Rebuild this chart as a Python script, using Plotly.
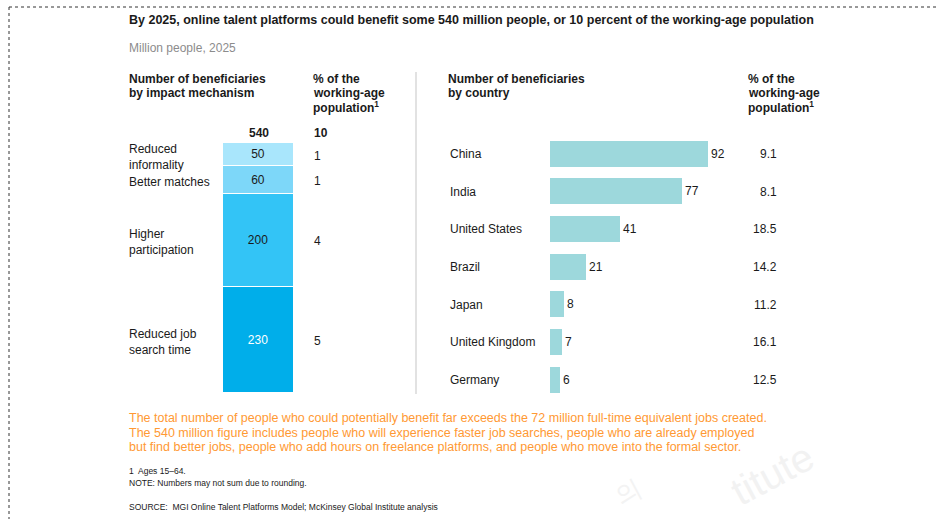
import plotly.graph_objects as go

W, H = 937, 519
def px(x): return x / W
def py(y): return 1 - y / H

# ---- data ----
mechanisms = ["Reduced job<br>search time", "Higher<br>participation", "Better matches", "Reduced<br>informality"]
mech_values = [230, 200, 60, 50]
mech_pct = ["5", "4", "1", "1"]
mech_colors = ["#00aeea", "#33c4f6", "#7dd7f9", "#a9e6fc"]
mech_text_colors = ["white", "#1a1a1a", "#1a1a1a", "#1a1a1a"]
total_value = "540"
total_pct = "10"

countries = ["China", "India", "United States", "Brazil", "Japan", "United Kingdom", "Germany"]
country_values = [92, 77, 41, 21, 8, 7, 6]
country_pct = ["9.1", "8.1", "18.5", "14.2", "11.2", "16.1", "12.5"]

FONT = "Arial, Liberation Sans, sans-serif"
DARK = "#1a1a1a"

fig = go.Figure()

# ---- left stacked bar ----
for name, v, c, tc in zip(mechanisms, mech_values, mech_colors, mech_text_colors):
    fig.add_trace(go.Bar(
        x=[0], y=[v], width=1, name=name,
        marker=dict(color=c, line=dict(color="white", width=1)),
        text=[str(v)], textposition="inside", insidetextanchor="middle",
        textfont=dict(family=FONT, size=12, color=tc),
        xaxis="x", yaxis="y", showlegend=False, hoverinfo="skip"))

# ---- right horizontal bars ----
fig.add_trace(go.Bar(
    x=country_values, y=countries, orientation="h", width=0.69,
    marker=dict(color="#9dd8dc", line=dict(width=0)),
    text=[str(v) for v in country_values], textposition="outside",
    textfont=dict(family=FONT, size=12, color=DARK),
    cliponaxis=False, xaxis="x2", yaxis="y2", showlegend=False, hoverinfo="skip"))

ann = []
def A(x, y, text, size=12, color=DARK, bold=False, xanchor="left", yanchor="middle",
      xref="paper", yref="paper", family=FONT, **kw):
    if bold:
        text = "<b>" + text + "</b>"
    ann.append(dict(x=x, y=y, xref=xref, yref=yref, text=text, showarrow=False,
                    xanchor=xanchor, yanchor=yanchor, align="left", borderpad=0, borderwidth=0,
                    font=dict(family=family, size=size, color=color), **kw))

def lines(x, y0, step, texts, **kw):
    for i, t in enumerate(texts):
        A(x, py(y0 + i * step), t, **kw)

# titles
A(px(129), py(20), "By 2025, online talent platforms could benefit some 540 million people, or 10 percent of the working-age population", size=12.5, bold=True)
A(px(129), py(48), "Million people, 2025", size=12, color="#8c8c8c")

# headers
lines(px(129), 79, 14, ["Number of beneficiaries", "by impact mechanism"], bold=True)
lines(px(313), 79, 14, ["% of the", "working-age", "population<sup>1</sup>"], bold=True)
lines(px(448), 79, 14, ["Number of beneficiaries", "by country"], bold=True)
lines(px(748), 79, 14, ["% of the", "working-age", "population<sup>1</sup>"], bold=True)

# left totals
A(px(259), py(133), total_value, bold=True, xanchor="center")
A(px(314), py(133), total_pct, bold=True)

# left labels & pct
cum = 0
for name, v, p in zip(mechanisms, mech_values, mech_pct):
    mid = cum + v / 2
    cum += v
    A(px(129), mid, name, yref="y", yshift=-2)
    A(px(314), mid, p, yref="y", yshift=-1)

# right labels & pct
for c, p in zip(countries, country_pct):
    A(px(450), c, c, yref="y2")
    A(px(777), c, p, yref="y2", xanchor="right")

# orange note
lines(px(129), 418, 14.5, [
    "The total number of people who could potentially benefit far exceeds the 72 million full-time equivalent jobs created.",
    "The 540 million figure includes people who will experience faster job searches, people who are already employed",
    "but find better jobs, people who add hours on freelance platforms, and people who move into the formal sector."],
    size=12.5, color="#ff9933")

A(px(129), py(471), "1  Ages 15–64.", size=8.5)
A(px(129), py(483), "NOTE: Numbers may not sum due to rounding.", size=8.5)
A(px(129), py(507), "SOURCE:  MGI Online Talent Platforms Model; McKinsey Global Institute analysis", size=8.5)

# faint watermark
A(px(772), py(474), "titute", size=40, color="#f2f2f2", xanchor="center", textangle=-28)
A(px(628), py(492), "의", size=26, color="#f3f3f3", xanchor="center", textangle=-28)

shapes = [
    dict(type="line", xref="paper", yref="paper", x0=px(416), x1=px(416), y0=py(72), y1=py(394),
         line=dict(color="#d9d9d9", width=1.5)),
    dict(type="line", xref="paper", yref="paper", x0=px(9), x1=1, y0=py(7), y1=py(7),
         line=dict(color="#333333", width=1, dash="dot")),
    dict(type="line", xref="paper", yref="paper", x0=px(9), x1=px(9), y0=py(7), y1=0,
         line=dict(color="#333333", width=1, dash="dot")),
]

fig.update_layout(
    width=W, height=H, margin=dict(l=0, r=0, t=0, b=0),
    paper_bgcolor="white", plot_bgcolor="rgba(0,0,0,0)",
    barmode="stack", bargap=0,
    annotations=ann, shapes=shapes,
    xaxis=dict(domain=[px(223), px(294)], range=[-0.5, 0.5], visible=False, fixedrange=True),
    yaxis=dict(domain=[py(393), py(143)], range=[0, 540], visible=False, fixedrange=True),
    xaxis2=dict(domain=[px(550), px(708)], range=[0, 92], visible=False, anchor="y2"),
    yaxis2=dict(domain=[py(398.8), py(135.2)], range=[6.5, -0.5], visible=False, anchor="x2",
                categoryorder="array", categoryarray=countries),
)

fig.write_html("out.html")
